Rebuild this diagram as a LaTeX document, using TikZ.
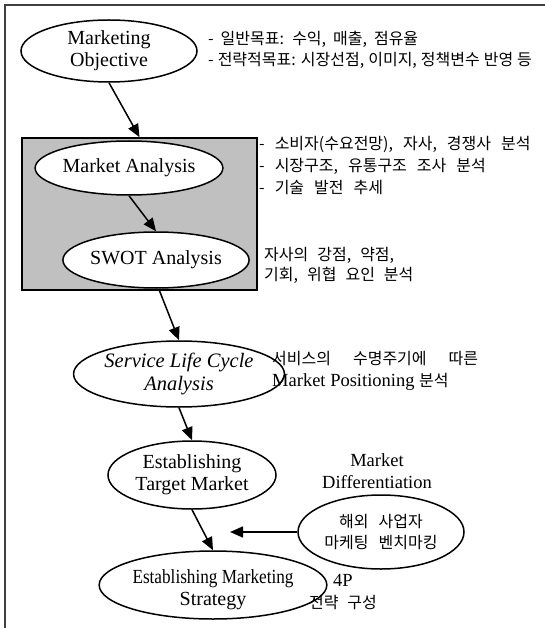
\documentclass[tikz,border=0pt]{standalone}
\usepackage{fontspec}
\setmainfont{Liberation Serif}
\newfontfamily\kr{Noto Sans CJK KR}
\usetikzlibrary{shapes.geometric,arrows.meta}
\definecolor{boxgray}{RGB}{192,192,192}
\newcommand{\krfont}[3]{\kr\fontsize{#1}{#2}\selectfont\spaceskip=#3pt\relax}
\newcommand{\krtext}[1]{{\krfont{16}{22}{9}#1}}
\newcommand{\dropped}[1]{\raisebox{-5pt}[\height][\depth]{#1}}

\begin{document}
\begin{tikzpicture}[x=1pt,y=-1pt]
  \tikzstyle{stage}=[ellipse,draw,line width=1.5pt,inner sep=0pt,align=center,font=\fontsize{20}{22}\selectfont]
  \tikzstyle{flow}=[line width=1.5pt,-{Triangle[length=13pt,width=11pt]}]
  \tikzstyle{note}=[anchor=west,align=left,inner sep=0pt,font=\krfont{16}{22}{10}]
  \tikzstyle{latin note}=[align=center,inner sep=0pt,font=\fontsize{18.5}{22}\selectfont]

  \useasboundingbox (0,0) rectangle (545,628);
  \draw[line width=1.6pt,black!75] (5,628) -- (5,5) -- (545,5);

  % objective
  \node[stage,minimum width=176pt,minimum height=62pt] (obj) at (109,51) {Marketing\\Objective};
  \node[note,font=\krfont{16}{21}{4}] (objnote) at (208,50) {{\spaceskip=7pt\relax - 일반목표: 수익, 매출, 점유율}\\- 전략적목표: 시장선점, 이미지, 정책변수 반영 등};

  % analysis block
  \node[draw,fill=boxgray,line width=1.6pt,minimum width=235pt,minimum height=152pt] (box) at (139.5,214) {};
  \node[stage,fill=white,minimum width=178pt,minimum height=54pt] (ma) at (129,168) {Market Analysis};
  \node[stage,fill=white,minimum width=178pt,minimum height=56pt] (swot) at (156,260) {SWOT Analysis};
  \node[note] (manote) at (259,166) {- 소비자(수요전망), 자사, 경쟁사 분석\\- 시장구조, 유통구조 조사 분석\\- 기술 발전 추세};
  \node[note,font=\krfont{16}{20}{9}] (swotnote) at (264,265) {자사의 강점, 약점,\\기회, 위협 요인 분석};

  % life cycle
  \node[stage,minimum width=180pt,minimum height=66pt,font=\itshape\fontsize{20.5}{23}\selectfont] (slc) at (179,374) {Service Life Cycle\\Analysis};
  \node[latin note,anchor=west,align=left] (slcnote) at (272,371) {\krtext{서비스의\hspace{22pt}수명주기에\hspace{22pt}따른}\\Market Positioning \krtext{분석}};

  % target and strategy
  \node[stage,minimum width=168pt,minimum height=68pt] (etm) at (192,475) {Establishing\\Target Market};
  \node[stage,minimum width=176pt,minimum height=68pt] (ems) at (213,585) {\dropped{\scalebox{0.86}[1]{Establishing Marketing}}\\\dropped{Strategy}};
  \node[latin note] (diff) at (377,471) {Market\\Differentiation};
  \node[stage,minimum width=166pt,minimum height=74pt,font=\krfont{16}{21}{10}] (bench) at (381,532) {해외 사업자\\마케팅 벤치마킹};
  \node[latin note] (fourp) at (343,592) {4P\\\krtext{전략 구성}};

  \coordinate (joinin) at (230,532);

  \draw[flow] (obj.south) -- (box.north);
  \draw[flow] (ma.south) -- (swot.north);
  \draw[flow] ([xshift=20pt]box.south) -- (slc.north);
  \draw[flow] (slc.south) -- (etm.north);
  \draw[flow] (etm.south) -- (ems.north);
  \draw[flow] (bench.west) -- (joinin);
\end{tikzpicture}
\end{document}
